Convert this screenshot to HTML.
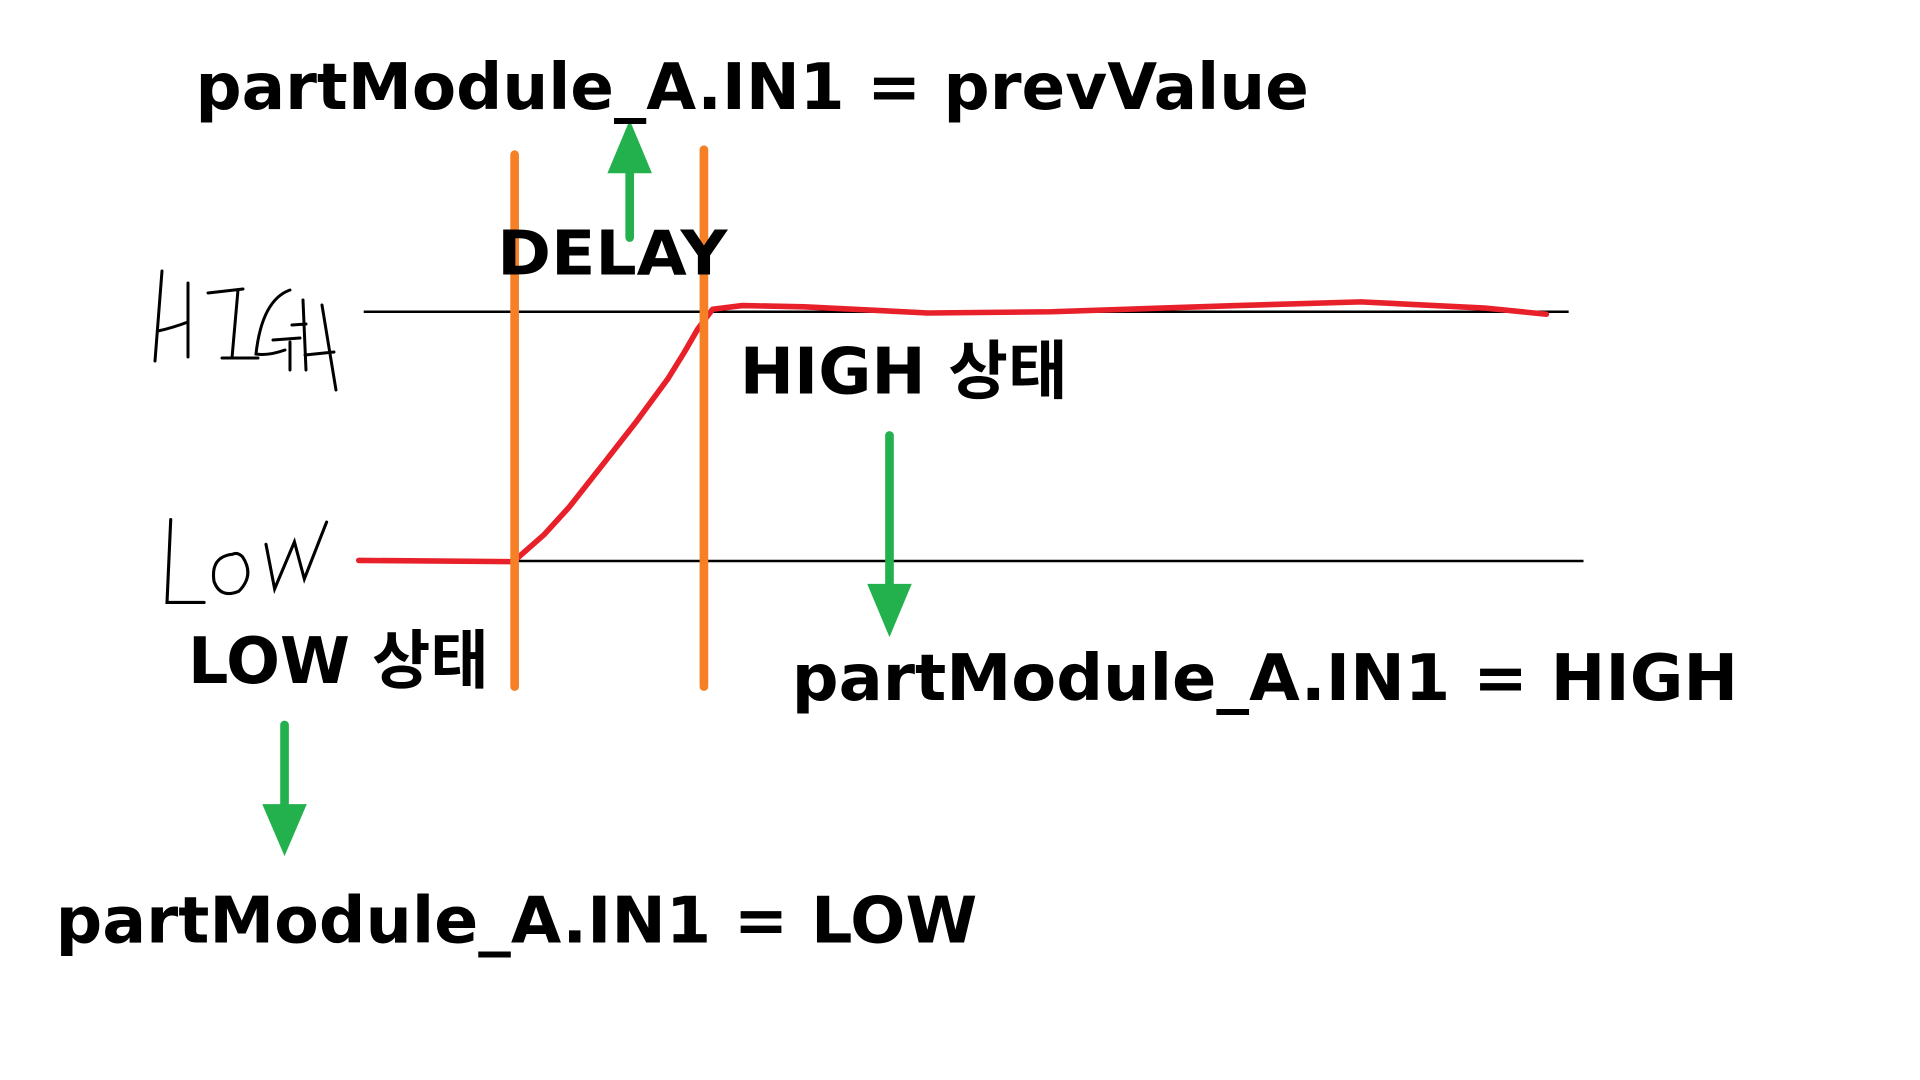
<!DOCTYPE html>
<html><head><meta charset="utf-8"><style>
html,body{margin:0;padding:0;background:#fff;width:1920px;height:1080px;overflow:hidden}
svg{display:block}
text{font-family:"DejaVu Sans","Liberation Sans","Noto Sans CJK KR",sans-serif;font-weight:bold;fill:#000}
</style></head><body>
<svg width="1920" height="1080" viewBox="0 0 1552 873" preserveAspectRatio="none">
<rect width="1552" height="873" fill="#fff"/>
<line x1="294" y1="252" x2="1268" y2="252" stroke="#000" stroke-width="2"/>
<line x1="290" y1="453.5" x2="1280" y2="453.5" stroke="#000" stroke-width="2"/>
<g fill="none" stroke="#000" stroke-width="3" stroke-linecap="round" transform="scale(0.8083)">
<path d="M162 271 L155 361 M188 283 L188 357 M158 331 Q172 328 188 322"/>
<path d="M208 293 L243 289 M238 290 L232 358 M222 358 L258 358"/>
<path d="M290 290 Q262 300 256 354 Q268 356 285 350 M273 340 L300 338 M290 342 L290 370"/>
<path d="M303 300 L306 370 M292 325 L306 324 M322 305 L336 390 M305 355 L334 352"/>
</g>
<g fill="none" stroke="#000" stroke-width="2.5" stroke-linecap="round">
<path d="M138 420 L135 487 L165 487 M188 448 Q170 450 173 470 Q178 484 193 478 Q206 465 196 450 Q192 446 188 448 M215 440 L222 476 L238 438 L246 468 L264 422"/>
</g>
<path d="M290 453 L415 454 L440 432 L460 410 L490 372 L515 340 L540 306 L553 285 L564 266 L576 250 L600 247 L650 248 L750 253 L850 252 L1000 247 L1100 244 L1200 249 L1250 254" fill="none" stroke="#e8202a" stroke-width="4.5" stroke-linejoin="round" stroke-linecap="round"/>
<line x1="416" y1="125" x2="416" y2="555" stroke="#f58025" stroke-width="7" stroke-linecap="round"/>
<line x1="569" y1="121" x2="569" y2="555" stroke="#f58025" stroke-width="7" stroke-linecap="round"/>
<g fill="#22b14c" stroke="#22b14c">
<line x1="509" y1="192" x2="509" y2="135" stroke-width="7" stroke-linecap="round"/>
<polygon points="491,140 527,140 509,97" stroke="none"/>
<line x1="719" y1="352" x2="719" y2="478" stroke-width="7" stroke-linecap="round"/>
<polygon points="701,472 737,472 719,515" stroke="none"/>
<line x1="230" y1="586" x2="230" y2="655" stroke-width="7" stroke-linecap="round"/>
<polygon points="212,650 248,650 230,692" stroke="none"/>
</g>
<text x="158" y="88" font-size="52" textLength="900" lengthAdjust="spacingAndGlyphs">partModule_A.IN1 = prevValue</text>
<text x="402" y="222" font-size="50" textLength="186" lengthAdjust="spacingAndGlyphs">DELAY</text>
<text x="598" y="318" font-size="52" textLength="265" lengthAdjust="spacingAndGlyphs">HIGH 상태</text>
<text x="640" y="566" font-size="52" textLength="765" lengthAdjust="spacingAndGlyphs">partModule_A.IN1 = HIGH</text>
<text x="152" y="552" font-size="52" textLength="243" lengthAdjust="spacingAndGlyphs">LOW 상태</text>
<text x="45" y="762" font-size="52" textLength="745" lengthAdjust="spacingAndGlyphs">partModule_A.IN1 = LOW</text>
</svg>
</body></html>
